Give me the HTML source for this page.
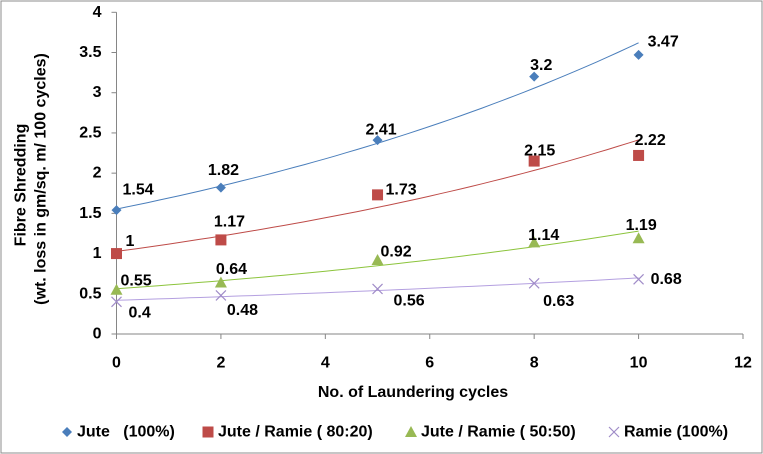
<!DOCTYPE html>
<html><head><meta charset="utf-8"><style>
body{margin:0;background:#fff}
svg{display:block;font-family:"Liberation Sans",Arial,sans-serif}
text{font-weight:bold;fill:#000}
</style></head><body>
<svg width="763" height="454" viewBox="0 0 763 454">
<rect x="1" y="1" width="761" height="452" fill="#fff" stroke="#8c8c8c" stroke-width="1"/>
<g id="axes"></g>
<g id="marks"></g>
<text transform="translate(21,185) rotate(-90)" text-anchor="middle" dominant-baseline="central" font-size="16">Fibre  Shredding</text>
<text transform="translate(41,179) rotate(-90)" text-anchor="middle" dominant-baseline="central" font-size="16">(wt. loss in gm/sq. m/ 100 cycles)</text>
<text x="413" y="397" text-anchor="middle" font-size="16">No. of Laundering cycles</text>
<g id="legend"></g>
</svg>
<script>
const xValues=[0,2,5,8,10];
const jute=[1.54,1.82,2.41,3.2,3.47];
const jr8020=[1,1.17,1.73,2.15,2.22];
const jr5050=[0.55,0.64,0.92,1.14,1.19];
const ramie=[0.4,0.48,0.56,0.63,0.68];
const seriesNames=["Jute   (100%)","Jute / Ramie ( 80:20)","Jute / Ramie ( 50:50)","Ramie (100%)"];
const xTicks=[0,2,4,6,8,10,12];
const yTicks=[0,0.5,1,1.5,2,2.5,3,3.5,4];
const yTickLabels=["0","0.5","1","1.5","2","2.5","3","3.5","4"];

const X0=116.5,X1=743,Y0=334,Y1=12.3;
const xs=v=>X0+(X1-X0)*v/12;
const ys=v=>Y0-(Y0-Y1)*v/4;
const NS="http://www.w3.org/2000/svg";
function mk(tag,attrs,parent){const e=document.createElementNS(NS,tag);for(const k in attrs)e.setAttribute(k,attrs[k]);parent.appendChild(e);return e;}
const axes=document.getElementById('axes'),marks=document.getElementById('marks'),legend=document.getElementById('legend');

let l=mk('line',{x1:X0,y1:Y1,x2:X0,y2:Y0,stroke:'#868686'},axes);


l=mk('line',{x1:X0,y1:Y0,x2:X1,y2:Y0,stroke:'#868686'},axes);


yTicks.forEach((v,i)=>{
  mk('line',{x1:X0-5,y1:ys(v),x2:X0,y2:ys(v),stroke:'#868686'},axes);
  const t=mk('text',{x:X0-15,y:ys(v),'text-anchor':'end','dominant-baseline':'central','font-size':16},axes);
  t.textContent=yTickLabels[i];
  
  
});
xTicks.forEach(v=>{
  mk('line',{x1:xs(v),y1:Y0,x2:xs(v),y2:Y0+5,stroke:'#868686'},axes);
  const t=mk('text',{x:xs(v),y:Y0+29,'text-anchor':'middle','dominant-baseline':'central','font-size':16},axes);
  t.textContent=v;
  
  
});

const colors=['#4a7ebb','#be4b48','#98b954','#a08cc8'];
const lineColors=['#4a7ebb','#be4b48','#8cc43c','#b4a0e0'];
const all=[jute,jr8020,jr5050,ramie];
const keys=['jute','jute-ramie-80-20','jute-ramie-50-50','ramie'];
const ldx=[[6,-13,-12,-4,9],[9,-7,8,-10,-4],[4,-5,3,-6,-13],[12,6,16,9,12]];
const ldy=[[-20,-17,-10,-11,-13],[-12,-18,-5,-10,-15],[-9,-13,-8,-7,-13],[11,15,12,18,0]];

function marker(i,cx,cy,parent){
  let e;
  if(i===0)e=mk('polygon',{points:`${cx},${cy-5} ${cx+5},${cy} ${cx},${cy+5} ${cx-5},${cy}`,fill:colors[0]},parent);
  else if(i===1)e=mk('rect',{x:cx-5.5,y:cy-5.5,width:11,height:11,fill:colors[1]},parent);
  else if(i===2)e=mk('polygon',{points:`${cx},${cy-6} ${cx+6},${cy+5} ${cx-6},${cy+5}`,fill:colors[2]},parent);
  else e=mk('path',{d:`M${cx-5},${cy-5}L${cx+5},${cy+5}M${cx+5},${cy-5}L${cx-5},${cy+5}`,stroke:colors[3],'stroke-width':1.2,fill:'none'},parent);
  return e;
}

all.forEach((data,i)=>{
  const n=xValues.length;let sx=0,sy=0,sxx=0,sxy=0;
  xValues.forEach((x,j)=>{const ly=Math.log(data[j]);sx+=x;sy+=ly;sxx+=x*x;sxy+=x*ly;});
  const b=(n*sxy-sx*sy)/(n*sxx-sx*sx),a=(sy-b*sx)/n;
  let d='';
  for(let k=0;k<=50;k++){const x=xValues[0]+(xValues[n-1]-xValues[0])*k/50;d+=(k?'L':'M')+xs(x).toFixed(1)+','+ys(Math.exp(a+b*x)).toFixed(1);}
  const p=mk('path',{d:d,stroke:lineColors[i],'stroke-width':1,fill:'none'},marks);
  
  
  data.forEach((v,j)=>{
    const m=marker(i,xs(xValues[j]),ys(v),marks);
    
    
    const t=mk('text',{x:xs(xValues[j])+ldx[i][j],y:ys(v)+ldy[i][j],'dominant-baseline':'central','font-size':16},marks);
    t.textContent=v;
    
    
  });
});

const legX=[67,208,411,614];
seriesNames.forEach((s,i)=>{
  const g=mk('g',{},legend);
  
  
  marker(i,legX[i],432,g);
  const t=mk('text',{x:legX[i]+10,y:432,'dominant-baseline':'central','font-size':16,'textLength':0},g);
  t.removeAttribute('textLength');
  t.style.whiteSpace='pre';
  t.textContent=s;
});
</script>
</body></html>
